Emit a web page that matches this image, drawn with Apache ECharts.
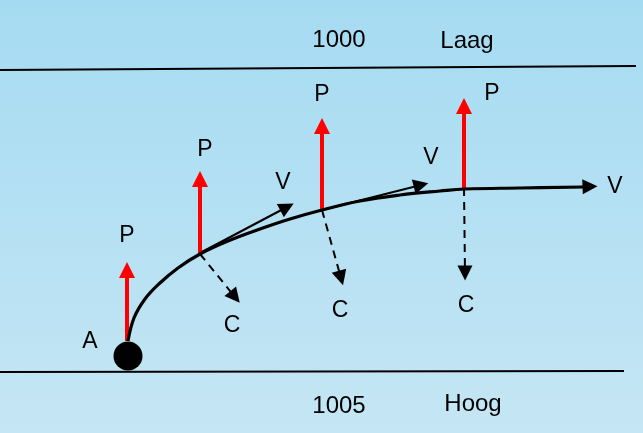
<!DOCTYPE html>
<html>
<head>
<meta charset="utf-8">
<script src="https://cdn.jsdelivr.net/npm/echarts@6/dist/echarts.min.js"></script>
<style>
html,body{margin:0;padding:0;}
#chart{width:643px;height:433px;}
</style>
</head>
<body>
<div id="chart"></div>
<script>
// Diagram data (pixel-like coordinates on a 643 x 433 plane, y downward)
const boundaryLines = [
  [[0, 70], [636, 66]],
  [[0, 372], [624, 371]]
];
const pathPoints = [
  [128, 341], [134, 318], [145, 299], [160, 283], [178, 268],
  [200, 254], [228, 241], [260, 229], [290, 219], [322, 210], [360, 201],
  [400, 195], [440, 191], [465, 189], [520, 188], [585, 187]
];
const pressureArrows = [
  [[127, 341], [127, 270]],
  [[200, 253], [200, 179]],
  [[322, 210], [322, 126]],
  [[464, 188], [464, 106]]
];
const velocityArrows = [
  [[200, 253], [287, 207]],
  [[322, 210], [421, 185]],
  [[578, 187], [590, 186.5]]
];
const centrifugalArrows = [
  [[200, 254], [235, 297]],
  [[322, 210], [341, 278]],
  [[464, 188], [465, 273]]
];
const ballPoint = [[128, 356]];
const levelTexts = ['1000', 'Laag', '1005', 'Hoog'];
const levelPositions = [[339, 40], [467, 41], [339, 406], [473, 404]];
const forceTexts = ['A', 'P', 'P', 'P', 'P', 'V', 'V', 'V', 'C', 'C', 'C'];
const forcePositions = [
  [90, 342],
  [127, 236], [205, 150], [322, 95], [492, 94],
  [283, 183], [431, 158], [615, 187],
  [232, 326], [340, 311], [466, 306]
];

const chart = echarts.init(document.getElementById('chart'), null, {renderer: 'canvas'});

const toLines = arr => arr.map(seg => ({coords: seg}));
const textSeries = (pos, texts, size) => ({
  type: 'scatter', symbolSize: 1,
  itemStyle: {opacity: 0},
  data: pos.map((p, i) => ({value: p, name: texts[i]})),
  label: {
    show: true, position: 'inside', formatter: p => p.name, opacity: 1,
    color: '#000', fontSize: size, fontFamily: 'Liberation Sans, Arial, sans-serif'
  }
});

chart.setOption({
  backgroundColor: {
    type: 'linear', x: 0, y: 0, x2: 0, y2: 1,
    colorStops: [
      {offset: 0, color: '#a5dbf2'},
      {offset: 1, color: '#c5e6f4'}
    ]
  },
  animation: false,
  grid: {left: 0, right: 0, top: 0, bottom: 0},
  xAxis: {type: 'value', min: 0, max: 643, show: false},
  yAxis: {type: 'value', min: 0, max: 433, inverse: true, show: false},
  series: [
    {
      type: 'lines', coordinateSystem: 'cartesian2d', polyline: false,
      data: toLines(boundaryLines),
      lineStyle: {color: '#000', width: 2, opacity: 1},
      symbol: ['none', 'none']
    },
    {
      type: 'line', data: pathPoints, smooth: 0.4, showSymbol: false,
      lineStyle: {color: '#000', width: 3.2}
    },
    {
      type: 'lines', coordinateSystem: 'cartesian2d',
      data: toLines(velocityArrows),
      lineStyle: {color: '#000', width: 2, opacity: 1},
      symbol: ['none', 'triangle'], symbolSize: 15
    },
    {
      type: 'lines', coordinateSystem: 'cartesian2d',
      data: toLines(centrifugalArrows),
      lineStyle: {color: '#000', width: 2, type: [8, 6], opacity: 1},
      symbol: ['none', 'triangle'], symbolSize: 15
    },
    {
      type: 'lines', coordinateSystem: 'cartesian2d',
      data: toLines(pressureArrows),
      lineStyle: {color: '#ff0000', width: 4, opacity: 1},
      symbol: ['none', 'triangle'], symbolSize: 16
    },
    {
      type: 'scatter', data: ballPoint, symbol: 'circle', symbolSize: 29,
      itemStyle: {color: '#000', opacity: 1}
    },
    textSeries(levelPositions, levelTexts, 24),
    textSeries(forcePositions, forceTexts, 23)
  ]
});
</script>
</body>
</html>
